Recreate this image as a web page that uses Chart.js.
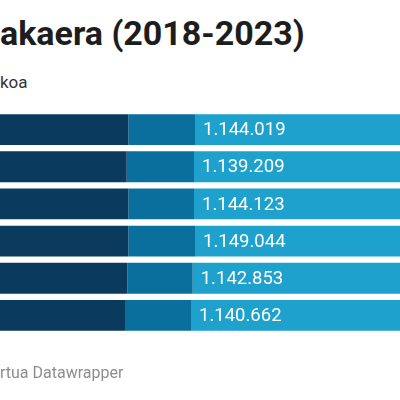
<!DOCTYPE html>
<html>
<head>
<meta charset="utf-8">
<script src="https://cdn.jsdelivr.net/npm/chart.js@4"></script>
<style>
  html, body { margin: 0; padding: 0; width: 400px; height: 400px; overflow: hidden; background: #fff; }
  body { position: relative; font-family: Roboto, "Noto Sans", sans-serif; }
  .title { position: absolute; left: 0; top: 13px; font-size: 34px; font-weight: 700; color: #1d1d1d; white-space: nowrap; }
  .subtitle { position: absolute; left: 0; top: 72px; font-size: 17px; color: #333; white-space: nowrap; }
  .footer { position: absolute; left: 0; top: 363px; font-size: 16px; color: #8d8d8d; white-space: nowrap; }
  #wrap { position: absolute; left: -17px; top: 0; width: 443px; height: 400px; }
</style>
</head>
<body>
<div class="title">akaera (2018-2023)</div>
<div class="subtitle">koa</div>
<div id="wrap"><canvas id="chart"></canvas></div>
<div class="footer">rtua Datawrapper</div>
<script>
// data
const years = ["2018", "2019", "2020", "2021", "2022", "2023"];
const darkValues = [721600, 713640, 721600, 721600, 716620, 705200];
const midValues = [331240, 334230, 326270, 331240, 324800, 327770];
const lightValues = [1144019, 1139209, 1144123, 1149044, 1142853, 1140662];

// 1144019 -> 1.144.019
function fmt(n) {
  return String(n).replace(/\B(?=(\d{3})+(?!\d))/g, ".");
}

// value labels at the start of the light segment
const segLabels = {
  id: "segLabels",
  afterDatasetsDraw(chart) {
    const ctx = chart.ctx;
    const meta = chart.getDatasetMeta(2);
    ctx.save();
    ctx.font = "18.5px Roboto";
    ctx.fillStyle = "#ffffff";
    ctx.textAlign = "left";
    ctx.textBaseline = "middle";
    meta.data.forEach((bar, i) => {
      ctx.fillText(fmt(lightValues[i]), bar.base + 8, bar.y + 1);
    });
    ctx.restore();
  }
};

new Chart("chart", {
  type: "bar",
  data: {
    labels: years,
    datasets: [
      { data: darkValues, backgroundColor: "#0a3a5e" },
      { data: midValues, backgroundColor: "#0a6f9c" },
      { data: lightValues, backgroundColor: "#1ea2cd" }
    ]
  },
  options: {
    indexAxis: "y",
    responsive: true,
    maintainAspectRatio: false,
    animation: false,
    layout: { padding: { top: 111, bottom: 66, left: 0, right: 0 } },
    datasets: { bar: { barPercentage: 0.83, categoryPercentage: 1, borderWidth: 0 } },
    scales: {
      x: { stacked: true, min: 0, max: 2200000, display: false },
      y: { stacked: true, display: false }
    },
    plugins: { legend: { display: false }, tooltip: { enabled: false } }
  },
  plugins: [segLabels]
});
</script>
</body>
</html>
